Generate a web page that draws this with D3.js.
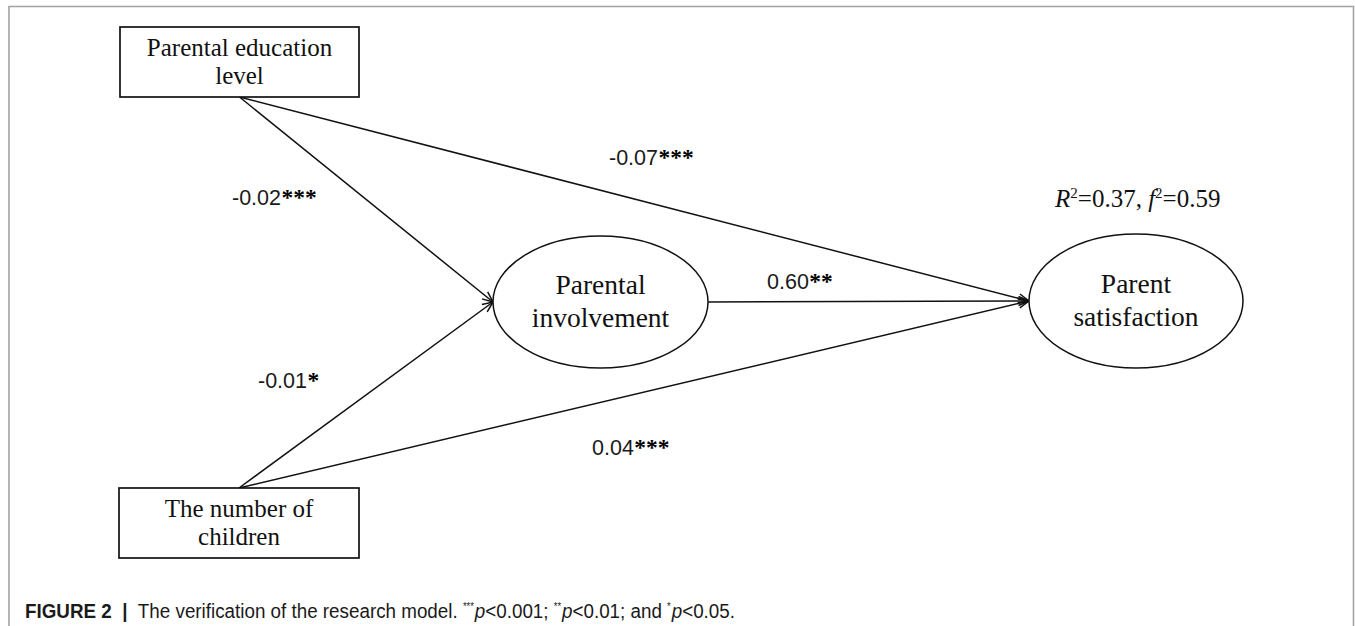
<!DOCTYPE html>
<html>
<head>
<meta charset="utf-8">
<script src="https://cdn.jsdelivr.net/npm/d3@7"></script>
<style>
  html, body { margin: 0; padding: 0; background: #fff; }
  svg { display: block; }
</style>
</head>
<body>
<svg id="chart" width="1355" height="626"></svg>
<script>
// Path model: observed variables (boxes), latent constructs (ellipses)
const nodeIds = ["edu", "children", "involvement", "satisfaction"];
const nodeLabels = [["Parental education", "level"], ["The number of", "children"], ["Parental", "involvement"], ["Parent", "satisfaction"]];
const nodeShapes = ["rect", "rect", "ellipse", "ellipse"];

// Structural paths and their standardized coefficients
const pathFrom = ["edu", "edu", "children", "children", "involvement"];
const pathTo = ["involvement", "satisfaction", "involvement", "satisfaction", "satisfaction"];
const pathCoef = ["-0.02", "-0.07", "-0.01", "0.04", "0.60"];
const pathSig = ["***", "***", "*", "***", "**"];

const r2Value = "0.37";
const f2Value = "0.59";

// Layout
const nodeGeom = {
  edu:          { cx: 239.5, cy: 62,  w: 239, h: 70 },
  children:     { cx: 239,   cy: 523, w: 240, h: 70 },
  involvement:  { cx: 600.5, cy: 302, rx: 107.5, ry: 66 },
  satisfaction: { cx: 1136,  cy: 301, rx: 107,   ry: 67 }
};
const labelPos = [[232, 205], [609, 165], [258, 388], [592, 455], [767, 289]];

const svg = d3.select("#chart");

// Panel frame (open at bottom)
svg.append("path")
  .attr("d", "M9,626 L9,6.5 L1353.5,6.5 L1353.5,626")
  .attr("fill", "none")
  .attr("stroke", "#a3a3a3")
  .attr("stroke-width", 1.6);

// Arrowhead
svg.append("defs").append("marker")
  .attr("id", "arrow")
  .attr("viewBox", "0 0 12 12")
  .attr("refX", 11.5).attr("refY", 6)
  .attr("markerWidth", 12).attr("markerHeight", 12)
  .attr("markerUnits", "userSpaceOnUse")
  .attr("orient", "auto")
  .append("path")
  .attr("d", "M1,1.5 L11.5,6 L1,10.5")
  .attr("fill", "none")
  .attr("stroke", "#111")
  .attr("stroke-width", 1.5);

const ink = "#111";
const serif = "'Liberation Serif', 'Times New Roman', serif";
const sans = "'Liberation Sans', Arial, sans-serif";

// Anchor points on node outlines
function outPoint(id, dir) {
  const g = nodeGeom[id];
  if (g.w) return dir === "down" ? [g.cx, g.cy + g.h / 2] : [g.cx, g.cy - g.h / 2];
  return [g.cx + g.rx, g.cy];
}
function inPoint(id) {
  const g = nodeGeom[id];
  return [g.cx - g.rx, g.cy];
}

const paths = pathFrom.map((f, i) => ({ from: f, to: pathTo[i], coef: pathCoef[i], sig: pathSig[i] }));

svg.append("g").selectAll("line")
  .data(paths)
  .join("line")
  .each(function (d) {
    const src = d.from === "edu" ? outPoint(d.from, "down") : d.from === "children" ? outPoint(d.from, "up") : outPoint(d.from);
    const tgt = inPoint(d.to);
    d3.select(this)
      .attr("x1", src[0]).attr("y1", src[1])
      .attr("x2", tgt[0]).attr("y2", tgt[1]);
  })
  .attr("stroke", ink)
  .attr("stroke-width", 1.5)
  .attr("marker-end", "url(#arrow)");

// Nodes
const nodes = nodeIds.map((id, i) => ({ id, lines: nodeLabels[i], shape: nodeShapes[i] }));
const ng = svg.append("g").selectAll("g").data(nodes).join("g");
ng.each(function (d) {
  const g = nodeGeom[d.id];
  const sel = d3.select(this);
  if (d.shape === "rect") {
    sel.append("rect")
      .attr("x", g.cx - g.w / 2).attr("y", g.cy - g.h / 2)
      .attr("width", g.w).attr("height", g.h)
      .attr("fill", "#fff").attr("stroke", ink).attr("stroke-width", 1.7);
  } else {
    sel.append("ellipse")
      .attr("cx", g.cx).attr("cy", g.cy).attr("rx", g.rx).attr("ry", g.ry)
      .attr("fill", "#fff").attr("stroke", ink).attr("stroke-width", 1.5);
  }
  const lh = d.shape === "rect" ? 28 : 33.5;
  const y0 = d.shape === "rect" ? g.cy - 6 : g.cy - 8.5;
  d.lines.forEach((t, k) => {
    sel.append("text")
      .attr("x", g.cx).attr("y", y0 + k * lh)
      .attr("text-anchor", "middle")
      .attr("font-family", serif)
      .attr("font-size", d.shape === "rect" ? 25 : 27.5)
      .attr("fill", ink)
      .text(t);
  });
});

// Coefficient labels
const lg = svg.append("g").selectAll("text")
  .data(paths)
  .join("text")
  .attr("x", (d, i) => labelPos[i][0])
  .attr("y", (d, i) => labelPos[i][1])
  .attr("font-family", sans)
  .attr("font-size", 21.5)
  .attr("fill", "#1a1a1a");
lg.append("tspan").text(d => d.coef);
lg.append("tspan")
  .attr("font-family", serif)
  .attr("font-weight", "bold")
  .attr("font-size", 23.5)
  .attr("fill", "#000")
  .attr("dx", 0.5)
  .text(d => d.sig);

// Explained variance / effect size
const r2 = svg.append("text")
  .attr("x", 1055).attr("y", 207)
  .attr("font-family", serif)
  .attr("font-size", 25)
  .attr("fill", ink);
r2.append("tspan").attr("font-style", "italic").text("R");
r2.append("tspan").attr("font-size", 15).attr("dy", -9).text("2");
r2.append("tspan").attr("dy", 9).text("=" + r2Value + ", ");
r2.append("tspan").attr("font-style", "italic").text("f");
r2.append("tspan").attr("font-size", 15).attr("dy", -9).text("2");
r2.append("tspan").attr("dy", 9).text("=" + f2Value);

// Caption
const cap = svg.append("text")
  .attr("x", 25).attr("y", 618)
  .attr("font-family", sans)
  .attr("font-size", 20)
  .attr("fill", "#1a1a1a")
  .attr("textLength", 710)
  .attr("lengthAdjust", "spacingAndGlyphs");
cap.append("tspan").attr("font-weight", "bold").text("FIGURE 2\u00a0\u00a0|\u00a0\u00a0");
cap.append("tspan").text("The verification of the research model. ");
cap.append("tspan").attr("font-size", 10).attr("dy", -8).text("***");
cap.append("tspan").attr("dy", 8).attr("dx", 1).attr("font-style", "italic").text("p");
cap.append("tspan").text("<0.001; ");
cap.append("tspan").attr("font-size", 10).attr("dy", -8).text("**");
cap.append("tspan").attr("dy", 8).attr("dx", 1).attr("font-style", "italic").text("p");
cap.append("tspan").text("<0.01; and ");
cap.append("tspan").attr("font-size", 10).attr("dy", -8).text("*");
cap.append("tspan").attr("dy", 8).attr("dx", 1).attr("font-style", "italic").text("p");
cap.append("tspan").text("<0.05.");
</script>
</body>
</html>
